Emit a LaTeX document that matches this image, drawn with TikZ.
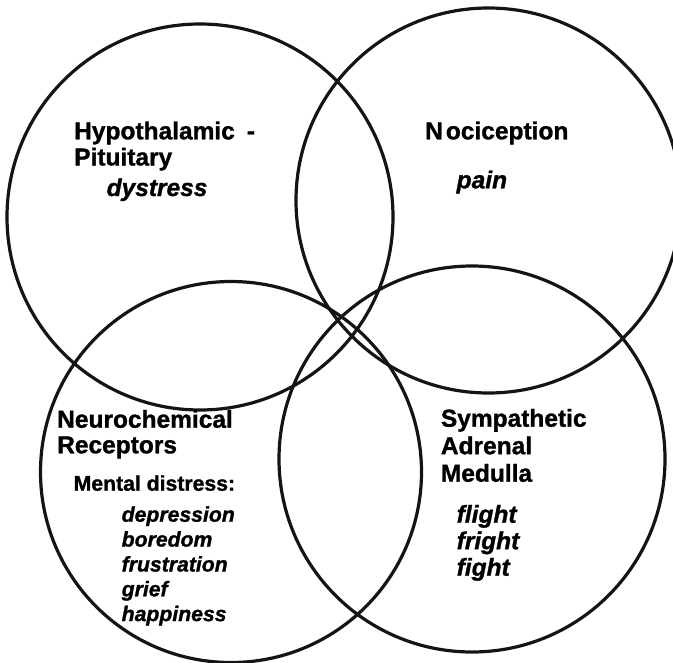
\documentclass[tikz,border=0pt]{standalone}
\usepackage{fontspec}
\setmainfont{Liberation Sans}[BoldFeatures={FakeBold=1.2},BoldItalicFeatures={FakeBold=1.2}]
\begin{document}
\begin{tikzpicture}[x=1bp,y=-1bp,
  ring/.style={draw=black!92, line width=3.2bp},
  head/.style={anchor=base west, inner sep=0pt, font=\fontsize{24.5bp}{28bp}\selectfont\bfseries},
  headit/.style={anchor=base west, inner sep=0pt, font=\fontsize{24.5bp}{28bp}\selectfont\bfseries\itshape},
  small/.style={anchor=base west, inner sep=0pt, font=\fontsize{21.2bp}{25bp}\selectfont\bfseries},
  smallit/.style={anchor=base west, inner sep=0pt, font=\fontsize{21.2bp}{25bp}\selectfont\bfseries\itshape}]
\clip (0,0) rectangle (673,663);
\useasboundingbox (0,0) rectangle (673,663);
% circles
\draw[ring] (200,217) circle[radius=193bp];
\draw[ring] (488.5,200.5) circle[radius=192.5bp];
\draw[ring] (231,472) circle[radius=190.5bp];
\draw[ring] (472,459) circle[radius=193bp];
% Hypothalamic - Pituitary
\node[head] (hp1) at (74,139.3) {Hypothalamic\hspace{12bp}-};
\node[head] (hp2) at (74,165.5) {Pituitary};
\node[headit] (hp3) at (106.5,196) {dystress};
% Nociception
\node[head] (no1) at (425,139.3) {N\kern3bp ociception};
\node[headit] (no2) at (456.5,188.3) {pain};
% Neurochemical Receptors
\node[head] (nr1) at (57,427.7) {Neurochemical};
\node[head] (nr2) at (57,453.3) {Receptors};
\node[small] (nr3) at (73.5,490.7) {Mental distress:};
\node[smallit] (nr4) at (121.5,521.7) {depression};
\node[smallit] (nr5) at (121.5,546.6) {boredom};
\node[smallit] (nr6) at (121.5,571.5) {frustration};
\node[smallit] (nr7) at (121.5,596.3) {grief};
\node[smallit] (nr8) at (121.5,621.1) {happiness};
% Sympathetic Adrenal Medulla
\node[head] (sa1) at (440.7,426.7) {Sympathetic};
\node[head] (sa2) at (440.7,454.2) {Adrenal};
\node[head] (sa3) at (440.7,481.7) {Medulla};
\node[headit] (sa4) at (456.5,522.7) {flight};
\node[headit] (sa5) at (456.5,549.2) {fright};
\node[headit] (sa6) at (456.5,575.7) {fight};
\end{tikzpicture}
\end{document}
